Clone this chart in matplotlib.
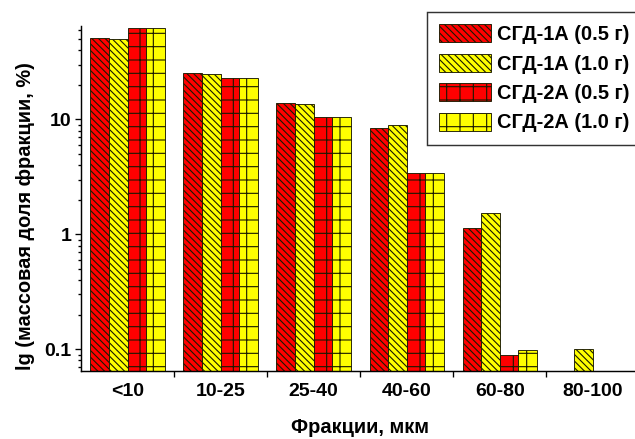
import numpy as np
import matplotlib
matplotlib.use("Agg")
import matplotlib.pyplot as plt

plt.rcParams['font.family'] = ['Liberation Sans', 'DejaVu Sans']
plt.rcParams['font.weight'] = 'bold'
plt.rcParams['hatch.linewidth'] = 1.0

# фракции и массовые доли, %
fractions = ['<10', '10-25', '25-40', '40-60', '60-80', '80-100']
sgd1a_05 = [51, 25.5, 13.9, 8.4, 1.14, np.nan]
sgd1a_10 = [50, 25, 13.5, 8.9, 1.54, 0.1]
sgd2a_05 = [62, 23, 10.5, 3.45, 0.089, np.nan]
sgd2a_10 = [62, 23, 10.5, 3.45, 0.098, np.nan]

series = [
    ('СГД-1А (0.5 г)', sgd1a_05, '#ff0000', '\\\\\\\\'),
    ('СГД-1А (1.0 г)', sgd1a_10, '#ffff00', '\\\\\\\\'),
    ('СГД-2А (0.5 г)', sgd2a_05, '#ff0000', '+'),
    ('СГД-2А (1.0 г)', sgd2a_10, '#ffff00', '+'),
]

W, H, DPI = 635, 439, 80
fig = plt.figure(figsize=(W / DPI, H / DPI), dpi=DPI)
ax = fig.add_axes([81 / W, 1 - 371 / H, (639.5 - 81) / W, (371 - 26) / H])

x = np.arange(len(fractions))
bw = 0.2
for i, (label, vals, color, hatch) in enumerate(series):
    ax.bar(x + (i - 1.5) * bw, vals, bw, color=color, edgecolor='#1a1a00',
           linewidth=0.8, hatch=hatch, label=label)

ax.set_yscale('log')
ax.set_ylim(0.0648, 65)
ax.set_xlim(-0.5, 5.5)

ax.set_xticks(x, fractions)
ax.set_xticks(x[:-1] + 0.5, minor=True)
ax.tick_params(axis='x', which='major', length=0, pad=11, labelsize=17.5)
ax.tick_params(axis='x', which='minor', length=5, width=1.2)
ax.set_yticks([0.1, 1, 10], ['0.1', '1', '10'])
ax.tick_params(axis='y', which='major', length=5.5, width=1.2, labelsize=17.5, pad=3)
ax.tick_params(axis='y', which='minor', length=3, width=1.2)

for s in ['top', 'right']:
    ax.spines[s].set_visible(False)
for s in ['left', 'bottom']:
    ax.spines[s].set_linewidth(1.3)

ax.set_xlabel('Фракции, мкм', fontsize=18, fontweight='bold', labelpad=16)
ax.set_ylabel('lg (массовая доля фракции, %)', fontsize=18, fontweight='bold')
ax.yaxis.set_label_coords(-46 / 558.5, 0.45)

leg = fig.legend(loc='upper left', bbox_to_anchor=(427 / W, 1 - 12 / H),
                 borderaxespad=0, fontsize=18, frameon=True, fancybox=False,
                 handlelength=2.6, handleheight=1.0, handletextpad=0.3,
                 labelspacing=0.48, borderpad=0.62)
leg.get_frame().set_edgecolor('black')
leg.get_frame().set_linewidth(1.3)

fig.savefig('out.png', dpi=DPI)
